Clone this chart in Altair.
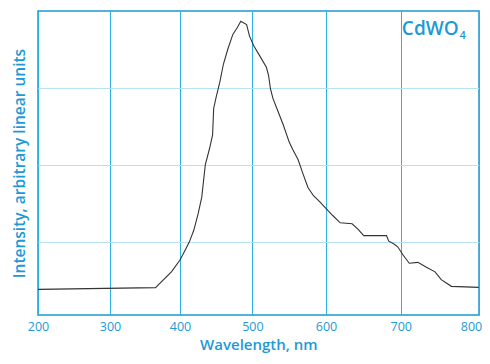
import altair as alt
import pandas as pd

wavelength = [200, 365, 388, 400, 406, 413, 419, 425, 430, 435, 441, 445, 446.5, 450, 455,
              460, 466, 473, 479, 484, 492, 496, 502, 510, 519, 522, 524.5, 528, 535, 542,
              550, 555, 562, 569, 575.5, 583, 591, 600.5, 609, 619, 635, 643, 650.5, 681,
              684, 690, 696, 703, 711, 722, 733, 744, 752, 765, 800]
intensity = [0.388, 0.410, 0.619, 0.769, 0.876, 1.004, 1.154, 1.367, 1.581, 2.008, 2.222,
             2.392, 2.735, 2.885, 3.077, 3.312, 3.504, 3.696, 3.782, 3.867, 3.824, 3.674,
             3.546, 3.418, 3.269, 3.162, 2.991, 2.863, 2.692, 2.521, 2.299, 2.200, 2.072,
             1.880, 1.709, 1.603, 1.530, 1.431, 1.346, 1.251, 1.239, 1.167, 1.085, 1.085,
             1.013, 0.982, 0.940, 0.833, 0.726, 0.738, 0.674, 0.615, 0.513, 0.427, 0.414]

x_ticks = [200, 300, 400, 500, 600, 700, 800]
x_tick_px = [0, 72, 142, 214.4, 288, 362.7, 440.7]
y_grid = [1, 2, 3]

TEXT = "#1d9ad6"
FONT = "Open Sans"

df = pd.DataFrame({"wl": wavelength, "v": intensity})

xscale = alt.Scale(domain=x_ticks, range=x_tick_px, nice=False, zero=False)
yscale = alt.Scale(domain=[0.055, 4], nice=False, zero=False)

xaxis = alt.Axis(values=x_ticks, title="Wavelength, nm", grid=True, gridColor="#2eb0e4",
                 gridWidth=1, domain=False, ticks=False, labelColor=TEXT, labelFont=FONT,
                 labelFontSize=12.5, labelPadding=5, titleColor=TEXT, titleFont=FONT,
                 titleFontSize=15, titleFontWeight=600, titlePadding=5, labelFlush=False,
                 labelAlign={"condition": {"test": "datum.value == 800", "value": "right"},
                             "value": "center"},
                 labelOffset={"condition": {"test": "datum.value == 800", "value": 3},
                              "value": 0})
yaxis = alt.Axis(values=y_grid, title="Intensity, arbitrary linear units", grid=True,
                 gridColor="#b5e3f5", gridWidth=1, domain=False, ticks=False, labels=False,
                 titleColor=TEXT, titleFont=FONT, titleFontSize=15.5, titleFontWeight=600,
                 titlePadding=11)

line = alt.Chart(df).mark_line(color="#333333", strokeWidth=1.1).encode(
    x=alt.X("wl:Q", scale=xscale, axis=xaxis),
    y=alt.Y("v:Q", scale=yscale, axis=yaxis),
)

label_df = pd.DataFrame({"wl": [701.5], "v": [3.69], "t": ["CdWO"]})
sub_df = pd.DataFrame({"wl": [775.5], "v": [3.635], "t": ["4"]})

label = alt.Chart(label_df).mark_text(align="left", baseline="alphabetic", font=FONT,
                                      fontSize=19, fontWeight=600, color=TEXT).encode(
    x=alt.X("wl:Q", scale=xscale), y=alt.Y("v:Q", scale=yscale), text="t:N")
sub = alt.Chart(sub_df).mark_text(align="left", baseline="alphabetic", font=FONT,
                                  fontSize=11, fontWeight=600, color=TEXT).encode(
    x=alt.X("wl:Q", scale=xscale), y=alt.Y("v:Q", scale=yscale), text="t:N")

chart = alt.layer(line, label, sub).properties(
    width=441, height=304,
    autosize=alt.AutoSizeParams(type="none"),
    padding={"left": 30, "top": 3, "right": 3, "bottom": 41},
).configure_view(stroke="#1e96cf", strokeWidth=1.5)

chart.save("out.html", embed_options={"renderer": "svg", "actions": False})
